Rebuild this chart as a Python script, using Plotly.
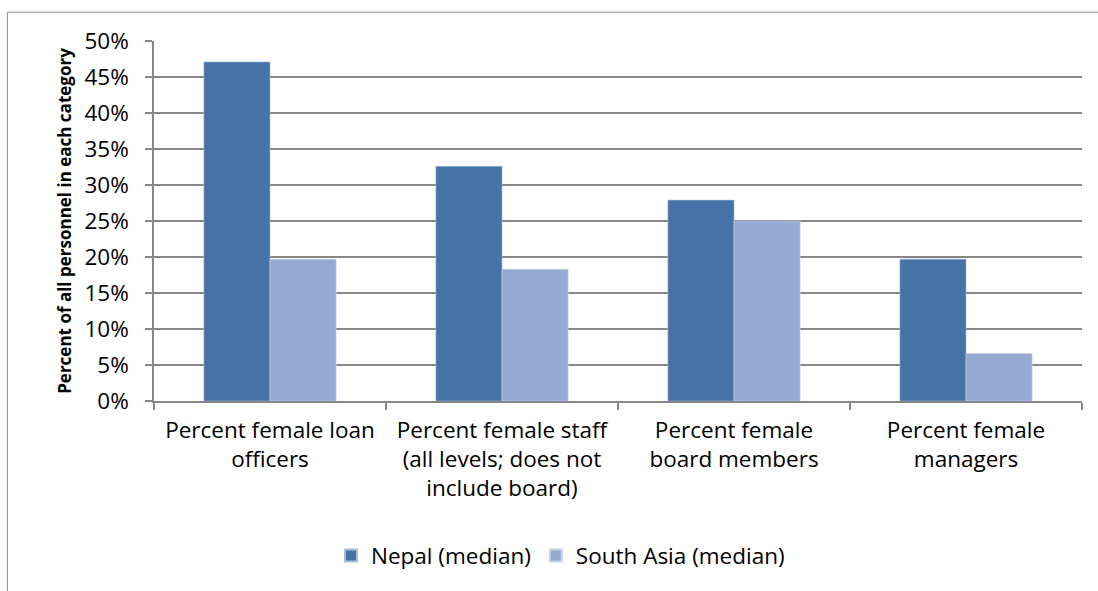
import plotly.graph_objects as go

categories = [
    "Percent female loan<br>officers",
    "Percent female staff<br>(all levels; does not<br>include board)",
    "Percent female<br>board members",
    "Percent female<br>managers",
]
nepal_median = [0.471, 0.326, 0.279, 0.197]
south_asia_median = [0.197, 0.183, 0.250, 0.066]
y_ticks = [0, 0.05, 0.10, 0.15, 0.20, 0.25, 0.30, 0.35, 0.40, 0.45, 0.50]

FONT = "Open Sans"
GRID = "#878787"
TXT = 22.5

fig = go.Figure()
fig.add_trace(go.Bar(
    x=categories, y=nepal_median, name="Nepal (median)",
    marker=dict(color="#4573a7", line=dict(color="#a9bfdc", width=0.6)),
))
fig.add_trace(go.Bar(
    x=categories, y=south_asia_median, name="South Asia (median)",
    marker=dict(color="#95a9d1", line=dict(color="#c9d4ea", width=0.6)),
))

fig.update_layout(
    width=1098, height=591,
    margin=dict(l=154, r=16, t=41, b=190),
    paper_bgcolor="white", plot_bgcolor="white",
    barmode="group", bargap=0.43, bargroupgap=0,
    font=dict(family=FONT, size=TXT, color="#000000"),
    showlegend=True,
    legend=dict(
        orientation="h", x=0.438, xanchor="center", y=-0.43, yanchor="middle",
        font=dict(family=FONT, size=TXT), traceorder="normal",
        tracegroupgap=0, itemsizing="constant",
    ),
    shapes=[dict(
        type="rect", xref="paper", yref="paper",
        x0=-0.158, x1=1.05, y0=-0.70, y1=1.08,
        line=dict(color="#8c8c8c", width=1), fillcolor="rgba(0,0,0,0)", layer="below",
    )],
)

fig.update_xaxes(
    type="category", tickson="boundaries", ticks="outside", ticklen=7,
    tickcolor=GRID, tickwidth=1.5, showline=True, linecolor=GRID, linewidth=1.5,
    tickfont=dict(family=FONT, size=TXT, color="#000000"), showgrid=False,
    ticklabelstandoff=8,
)
fig.update_yaxes(
    range=[0, 0.5], tickvals=y_ticks, tickformat=".0%",
    ticks="outside", ticklen=7, tickcolor=GRID, tickwidth=1.5,
    showline=True, linecolor=GRID, linewidth=1.5,
    showgrid=True, gridcolor=GRID, gridwidth=1.5, zeroline=False,
    tickfont=dict(family=FONT, size=TXT, color="#000000"),
    ticklabelstandoff=12,
    title=dict(text="<b>Percent of all personnel in each category</b>",
               font=dict(family=FONT, size=17), standoff=8),
)

fig.write_html("out.html")
